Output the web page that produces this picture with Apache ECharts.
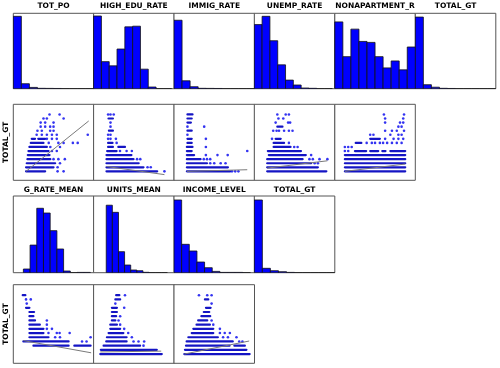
<!DOCTYPE html>
<html>
<head>
<meta charset="utf-8">
<script src="https://cdn.jsdelivr.net/npm/echarts@6/dist/echarts.min.js"></script>
<style>
  html, body { margin: 0; padding: 0; background: #fff; }
  #chart { width: 500px; height: 368px; }
</style>
</head>
<body>
<div id="chart"></div>
<script>
// histogram names (row 1 and row 3)
const topNames = ["TOT_PO", "HIGH_EDU_RATE", "IMMIG_RATE", "UNEMP_RATE", "NONAPARTMENT_R", "TOTAL_GT"];
const midNames = ["G_RATE_MEAN", "UNITS_MEAN", "INCOME_LEVEL", "TOTAL_GT"];
const yName = "TOTAL_GT";

// histogram heights, % of panel height, bins left to right
const totPoHist = [96, 6.6, 1.7, 0.5, 0.4, 0.3, 0, 0, 0, 0];
const highEduHist = [96.4, 35.9, 30.3, 52.6, 82, 82.9, 25.9, 2.2, 0, 0];
const immigHist = [90.8, 10.5, 2.6, 0.5, 0.4, 0.3, 0, 0, 0, 0];
const unempHist = [85, 96, 63.6, 31.6, 11.4, 4.9, 0.9, 0.5, 0, 0];
const nonAptHist = [88.6, 42.5, 79, 62.7, 61.4, 42.5, 27.6, 36.8, 25, 55.3];
const totalGtHist = [95, 5.3, 2, 0.5, 0.3, 0, 0, 0, 0, 0];
const gRateHist = [4.8, 36, 84, 77.8, 54.8, 30.9, 2.2, 0, 0.4, 0.4];
const unitsHist = [88, 78.7, 27.4, 10, 3.5, 2.6, 0.5, 0, 0, 0];
const incomeHist = [94.8, 37, 28.3, 13.9, 6.5, 1.7, 0.4, 0.4, 0.4, 0];
const totalGt2Hist = [94.8, 5.7, 2.6, 1.3, 0.4, 0, 0, 0, 0, 0];

// first bin edge and bin width (x in % of panel width)
const binStart = [0, 0, 0, 0, 0, 0, 12.5, 15.7, 0, 0];
const binWidth = [10, 9.7, 10, 9.7, 10, 10, 8.33, 7.6, 9.5, 10];

// scatter panels: dense runs of points [xFrom, xTo, TOTAL_GT], single points [x, TOTAL_GT], fit line
const totPoRuns = [[15.8,39.6,0],[15.8,50,1],[16.7,52,2],[17.5,46,3],[18,45,4],[18.8,43.8,5],[20,41.7,6],[21.7,37.5,7],[22.9,27,8],[31,39.6,8]];
const totPoDots = [[55,0],[62.5,0],[55,1],[58,2],[50,3],[56,3],[64,3],[48,5],[54,5],[46,6],[58,6],[44,7],[56,7],[62.5,7],[74,7],[80,7],[41.7,8],[48,8],[54,8],[29,9],[35.4,9],[41.7,9],[48,9],[54,9],[92.5,9],[30,10],[35.4,10],[45.8,10],[50,10],[34,11],[39.6,11],[45.8,11],[50,11],[34,12],[39.6,12],[50,12],[37.5,13],[41.7,13],[62.5,13],[45,14],[57.5,14]];
const totPoFit = [[15.8,0],[93.7,12.4]];

const highEduRuns = [[16,79,0],[16,62,1],[16,56,2],[16,49.6,3],[16,47,4],[16.8,28.6,5],[18,24,6],[30.7,39,6],[18,23.5,7],[19,24,10],[18.5,24,13]];
const highEduDots = [[88,0],[67,1],[71,1],[54,3],[58,3],[32.8,5],[41,5],[47.5,5],[28.6,7],[18,8],[21,8],[27.7,8],[18,9],[21,9],[21,11],[21,12],[18,14],[21,14],[25,14]];
const highEduFit = [[16,1.2],[88,-0.8]];

const immigRuns = [[16,70,0],[16,67,1],[16,41,2],[16,33,3],[16,25,4],[16,22,5],[16,23,6],[16.7,22,7],[16.7,22,8],[16.7,22,10],[16.7,21,12],[16.7,22,13],[16.7,23,14]];
const immigDots = [[72,0],[76,0],[80,0],[45,2],[50,2],[58,2],[64,2],[37,3],[41,3],[45,3],[39.6,4],[54,4],[66.7,4],[91,5],[39.6,6],[39.6,8],[16.7,9],[16.7,11],[37.5,11]];
const immigFit = [[16,0],[91,0.4]];

const unempRuns = [[16,89.5,0],[16,79,1],[16,70.6,2],[16,60,3],[18,64,4],[16.8,58,5],[24,45,6],[24,37,7],[26.5,32.8,8],[28.6,35,11]];
const unempDots = [[75,2],[79,2],[68.5,3],[72.7,3],[81,3],[90.8,3],[70.6,4],[49.6,6],[53.8,6],[43,7],[22,8],[23.5,10],[27.7,10],[30.7,10],[37,10],[43,10],[47.5,10],[26.5,12],[42,12],[44.5,12],[28.6,14],[39,14],[43,14],[30,13],[36,13]];
const unempFit = [[16,0.8],[90.8,2.6]];

const nonAptRuns = [[12.5,87.5,0],[12.5,87.5,1],[12.5,87.5,2],[12.5,87.5,3],[12.5,87.5,4],[25,39,5],[44,54,5],[59,63,5],[69,87.5,5],[26,33,7],[44,56,8]];
const nonAptDots = [[12.5,5],[16.7,5],[12.5,6],[16.7,6],[21,6],[39.6,7],[46,7],[50,7],[56,7],[60,7],[65,7],[71,7],[77,7],[83,7],[62.5,8],[73,8],[79,8],[85,8],[44,9],[48,9],[69,9],[79,9],[83,9],[62.5,10],[71,10],[77,10],[86,10],[79,11],[83,11],[62.5,12],[81,12],[85,12],[62.5,13],[85,13],[61,14],[86,14]];
const nonAptFit = [[12.5,0],[87.5,1.8]];

const gRateRuns = [[11.7,15,14],[15.8,20,11],[20,25.8,10],[20,25,9],[20,27,8],[20,33,7],[20,37.5,6],[20,37.5,5],[20,43.7,4],[12.5,68.7,3],[25,68.7,2],[75.8,96,2]];
const gRateDots = [[15.8,13],[21.7,13],[16.7,12],[41.7,8],[41.7,7],[41.7,6],[48,6],[43.7,5],[54,5],[57.5,5],[70,5],[52,4],[58,4],[96,4],[85.4,3],[91,3]];
const gRateFit = [[12.5,3.2],[96.7,0.3]];

const unitsRuns = [[28,32,14],[27,33,13],[22.7,29,11],[22.7,29,10],[22.7,28,9],[22.7,27,8],[20.7,29,7],[20.7,33,6],[18.6,37,5],[16.5,41,4],[15.7,41,3],[12.4,57.8,2],[9,78.5,1],[8.3,84.7,0]];
const unitsDots = [[39,14],[27,12],[38,11],[33,9],[31,8],[33,7],[38,6],[43,5],[47.5,4],[49.6,3],[55.8,3],[62.8,3],[62,2]];
const unitsFit = [[8.3,0.5],[84,0.7]];

const incomeRuns = [[38.4,42.6,13],[39.7,45.5,11],[37,43.8,10],[34,45,9],[30,41.3,8],[28,44.6,7],[24,48.8,6],[22,48.8,5],[17.8,54.5,4],[15.7,73,3],[14.9,69,2],[75,88,2],[13.6,90,1],[12.8,94,0]];
const incomeDots = [[31,14],[41.3,14],[46.7,14],[46.7,12],[46.7,8],[48.8,7],[57,6],[57,5],[63,5],[69.4,5],[61,4],[67,4],[77.6,4],[81,3],[85,3]];
const incomeFit = [[12.8,0],[93.4,3.1]];

const chart = echarts.init(document.getElementById("chart"));

const colX = [13.3, 93.6, 174, 254.3, 334.8, 415.3];
const colW = 80.5;
const rowBox = [[13.3, 75.4], [104.3, 76], [196, 76.7], [284.7, 78.6]];
const yMin = -2.2, yMax = 16.5;
const DOT = "#0000ee";
const RUN = "#1414c4";

const grid = [], xAxis = [], yAxis = [], series = [];

function addPanel(col, row, ymin, ymax) {
  const i = grid.length;
  grid.push({
    left: colX[col], top: rowBox[row][0], width: colW, height: rowBox[row][1],
    show: true, borderColor: "#555", borderWidth: 1, backgroundColor: "#fff"
  });
  xAxis.push({ gridIndex: i, type: "value", min: 0, max: 100, show: false });
  yAxis.push({ gridIndex: i, type: "value", min: ymin, max: ymax, show: false });
  return i;
}

function addHist(col, row, counts, k) {
  const i = addPanel(col, row, 0, 100);
  const data = counts.map((c, b) => [binStart[k] + b * binWidth[k], binStart[k] + (b + 1) * binWidth[k], c]);
  series.push({
    type: "custom", xAxisIndex: i, yAxisIndex: i, clip: true, silent: true,
    encode: { x: [0, 1], y: 2 },
    renderItem: (params, api) => {
      const p0 = api.coord([api.value(0), api.value(2)]);
      const p1 = api.coord([api.value(1), 0]);
      return {
        type: "rect",
        shape: { x: p0[0], y: p0[1], width: p1[0] - p0[0], height: p1[1] - p0[1] },
        style: { fill: "#0000ff", stroke: "#111", lineWidth: 0.8 }
      };
    },
    data
  });
}

function addScatter(col, row, runs, dots, fit) {
  const i = addPanel(col, row, yMin, yMax);
  series.push({
    type: "custom", xAxisIndex: i, yAxisIndex: i, clip: true, silent: true,
    encode: { x: [0, 1], y: 2 },
    renderItem: (params, api) => {
      const a = api.coord([api.value(0), api.value(2)]);
      const b = api.coord([api.value(1), api.value(2)]);
      return {
        type: "line",
        shape: { x1: a[0], y1: a[1], x2: b[0], y2: b[1] },
        style: { stroke: RUN, lineWidth: 2.2, lineCap: "round" }
      };
    },
    data: runs
  });
  series.push({
    type: "scatter", xAxisIndex: i, yAxisIndex: i, silent: true,
    symbolSize: 2.6, itemStyle: { color: DOT }, data: dots
  });
  series.push({
    type: "line", xAxisIndex: i, yAxisIndex: i, silent: true, showSymbol: false,
    lineStyle: { color: "#7a7a7a", width: 1 }, z: 5, data: fit
  });
}

[totPoHist, highEduHist, immigHist, unempHist, nonAptHist, totalGtHist].forEach((h, c) => addHist(c, 0, h, c));
[[totPoRuns, totPoDots, totPoFit], [highEduRuns, highEduDots, highEduFit], [immigRuns, immigDots, immigFit],
 [unempRuns, unempDots, unempFit], [nonAptRuns, nonAptDots, nonAptFit]].forEach((s, c) => addScatter(c, 1, s[0], s[1], s[2]));
[gRateHist, unitsHist, incomeHist, totalGt2Hist].forEach((h, c) => addHist(c, 2, h, 6 + c));
[[gRateRuns, gRateDots, gRateFit], [unitsRuns, unitsDots, unitsFit], [incomeRuns, incomeDots, incomeFit]]
  .forEach((s, c) => addScatter(c, 3, s[0], s[1], s[2]));

const font = "bold 7.5px 'DejaVu Sans'";
const labels = [];
topNames.forEach((n, c) => labels.push({ type: "text", x: colX[c] + colW / 2, y: 6.5, style: { text: n, font, fill: "#000", align: "center", verticalAlign: "middle" } }));
midNames.forEach((n, c) => labels.push({ type: "text", x: colX[c] + colW / 2, y: 190.5, style: { text: n, font, fill: "#000", align: "center", verticalAlign: "middle" } }));
[1, 3].forEach(r => labels.push({
  type: "text", x: 6.5, y: rowBox[r][0] + rowBox[r][1] / 2, rotation: Math.PI / 2,
  style: { text: yName, font, fill: "#000", align: "center", verticalAlign: "middle" }
}));

chart.setOption({
  animation: false,
  backgroundColor: "#fff",
  grid, xAxis, yAxis, series,
  graphic: labels
});
</script>
</body>
</html>
